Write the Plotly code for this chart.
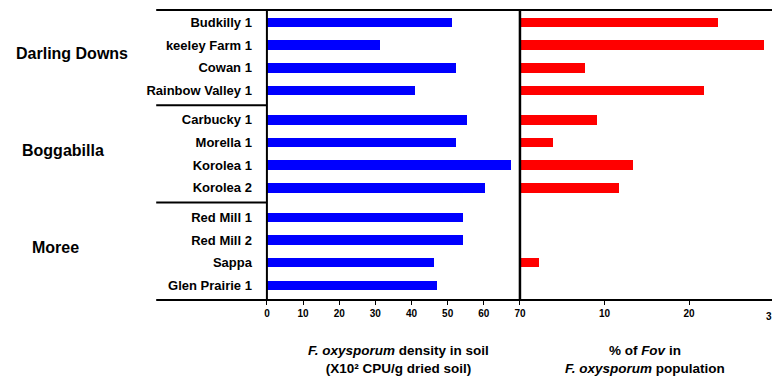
import plotly.graph_objects as go

sites = ["Budkilly 1", "keeley Farm 1", "Cowan 1", "Rainbow Valley 1",
         "Carbucky 1", "Morella 1", "Korolea 1", "Korolea 2",
         "Red Mill 1", "Red Mill 2", "Sappa", "Glen Prairie 1"]
site_group = [0, 0, 0, 0, 1, 1, 1, 1, 2, 2, 2, 2]
regions = ["Darling Downs", "Boggabilla", "Moree"]
density = [51.2, 31.2, 52.3, 41.0, 55.3, 52.3, 67.4, 60.3, 54.2, 54.2, 46.3, 47.1]
fov_pct = [23.45, 28.9, 7.7, 21.8, 9.1, 3.85, 13.4, 11.7, 0, 0, 2.2, 0]
density_ticks = [0, 10, 20, 30, 40, 50, 60, 70]
fov_ticks = [10, 20]

GAP = 0.3
pos = [i + g * GAP for i, g in enumerate(site_group)]

W, H = 778, 378
FONT = "Liberation Sans, Arial, Helvetica, sans-serif"
def px(x):
    return x / W

x_left0 = px(267)
x_mid = px(523)
x_lab = px(155)

fig = go.Figure()
fig.add_trace(go.Bar(y=pos, x=density, orientation="h", width=0.42,
                     marker=dict(color="#0000ff", line=dict(width=0)),
                     xaxis="x", yaxis="y", showlegend=False))
fig.add_trace(go.Bar(y=pos, x=fov_pct, orientation="h", width=0.42,
                     marker=dict(color="#ff0000", line=dict(width=0)),
                     xaxis="x2", yaxis="y", showlegend=False))

tickfont = dict(family=FONT, size=10, color="black", weight="bold")
fig.update_layout(
    width=W, height=H,
    margin=dict(l=0, r=0, t=10, b=78),
    paper_bgcolor="white", plot_bgcolor="white",
    bargap=0,
    xaxis=dict(domain=[x_left0, x_mid], range=[0, 70], tickvals=density_ticks,
               ticks="outside", ticklen=4, tickwidth=1, tickcolor="black",
               showgrid=False, zeroline=False, showline=False, tickfont=tickfont,
               fixedrange=True),
    xaxis2=dict(domain=[x_mid, 1.0], range=[0, 29.8], tickvals=fov_ticks,
                ticks="outside", ticklen=4, tickwidth=1, tickcolor="black",
                showgrid=False, zeroline=False, showline=False, tickfont=tickfont,
                anchor="y"),
    yaxis=dict(range=[12.25, -0.55], tickvals=pos, ticktext=sites,
               ticks="", showgrid=False, zeroline=False, showline=False,
               ticklabelstandoff=14,
               tickfont=dict(family=FONT, size=13, color="black", weight="bold")),
)

shapes = []
shapes.append(dict(type="line", xref="paper", yref="paper", x0=x_lab, x1=1, y0=1, y1=1,
                   line=dict(color="black", width=2)))
shapes.append(dict(type="line", xref="paper", yref="paper", x0=x_lab, x1=1, y0=0, y1=0,
                   line=dict(color="black", width=2)))
shapes.append(dict(type="line", xref="paper", yref="paper", x0=x_left0, x1=x_left0, y0=0, y1=1,
                   line=dict(color="black", width=2)))
shapes.append(dict(type="line", xref="paper", yref="paper", x0=x_mid, x1=x_mid, y0=0, y1=1,
                   line=dict(color="black", width=2.5)))
for g in range(1, len(regions)):
    last_prev = max(p for p, gg in zip(pos, site_group) if gg == g - 1)
    first_next = min(p for p, gg in zip(pos, site_group) if gg == g)
    ysep = (last_prev + first_next) / 2
    shapes.append(dict(type="line", xref="paper", yref="y", x0=x_lab, x1=x_left0,
                       y0=ysep, y1=ysep, line=dict(color="black", width=2)))
fig.update_layout(shapes=shapes)

annotations = []
region_x = [px(70), px(61), px(53)]
for g, name in enumerate(regions):
    ps = [p for p, gg in zip(pos, site_group) if gg == g]
    annotations.append(dict(text=name, xref="paper", yref="y", x=region_x[g],
                            y=sum(ps) / len(ps) - 0.15, showarrow=False, xanchor="center",
                            font=dict(family=FONT, size=16, color="black", weight="bold")))
annotations.append(dict(text="<i>F. oxysporum</i> density in soil<br>(X10² CPU/g dried soil)",
                        xref="paper", yref="paper", x=px(400), y=-0.14, yanchor="top",
                        xanchor="center", showarrow=False, align="center",
                        font=dict(family=FONT, size=13.5, color="black", weight="bold")))
annotations.append(dict(text="% of <i>Fov</i> in<br><i>F. oxysporum</i> population",
                        xref="paper", yref="paper", x=px(650), y=-0.14, yanchor="top",
                        xanchor="center", showarrow=False, align="center",
                        font=dict(family=FONT, size=13.5, color="black", weight="bold")))
# the "30" tick label is cut by the right edge of the chart; only its "3" shows
annotations.append(dict(text="3", xref="paper", yref="paper", x=1, y=0, yshift=-9,
                        xanchor="right", yanchor="top", xshift=2, showarrow=False,
                        font=tickfont))
fig.update_layout(annotations=annotations)

fig.write_html("out.html", config={"displayModeBar": False},
               post_script="document.body.style.margin='0';"
                           "document.body.style.overflow='hidden';"
                           "document.documentElement.style.overflow='hidden';")
